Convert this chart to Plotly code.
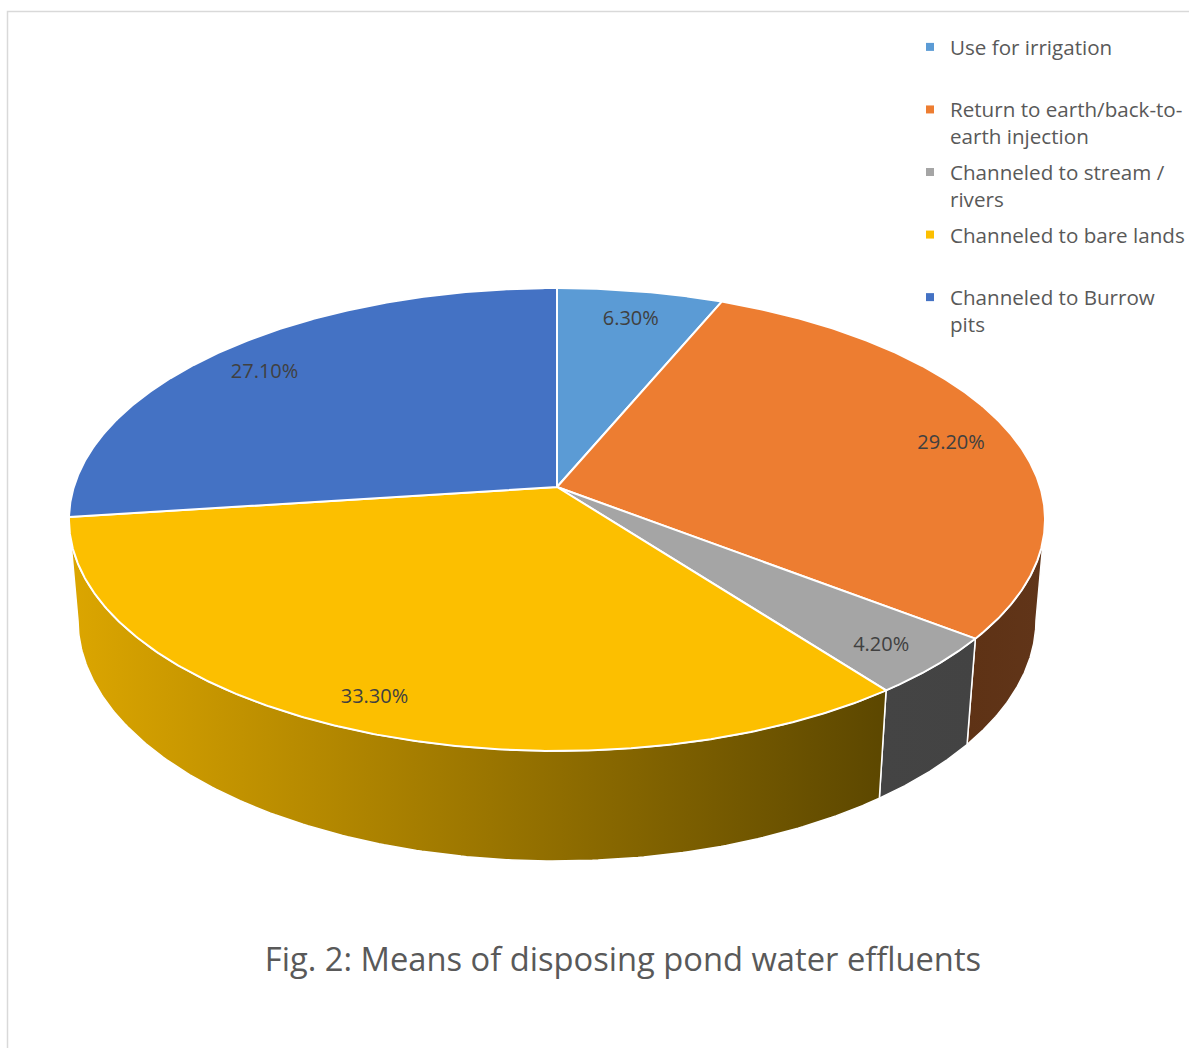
import numpy as np
import plotly.graph_objects as go

# ---------------- data ----------------
categories = [
    "Use for irrigation",
    "Return to earth/back-to-earth injection",
    "Channeled to stream / rivers",
    "Channeled to bare lands",
    "Channeled to Burrow pits",
]
legend_labels = [
    "Use for irrigation<br>\u00a0",
    "Return to earth/back-to-<br>earth injection",
    "Channeled to stream /<br>rivers",
    "Channeled to bare lands<br>\u00a0",
    "Channeled to Burrow<br>pits",
]
values = [6.3, 29.2, 4.2, 33.3, 27.1]
value_labels = ["6.30%", "29.20%", "4.20%", "33.30%", "27.10%"]
title_text = "Fig. 2: Means of disposing pond water effluents"

# ---------------- styles ----------------
top_colors = ["#5B9BD5", "#ED7D31", "#A5A5A5", "#FCBF00", "#4472C4"]
wall_colors = [
    ["#2E5A85", "#2E5A85"],
    ["#5E3215", "#613519"],
    ["#444444", "#434343"],
    ["#DCA600", "#5C4700"],
    ["#26457A", "#26457A"],
]
FONT = "Open Sans"

# ---------------- 3D-perspective projection of the pie disc ----------------
W, H = 1189, 1048
CX, CY = 557.0, 487.0      # apex of the pie (screen px)
A, B, K = 483.2, 226.9, 0.1404   # horizontal / vertical radius and perspective
C_T, M_T = 101.5, 0.0185   # thickness and its perspective term
LABEL_R = 0.87
LABEL_DY = 6.0


def proj(theta_deg, r=1.0, bottom=False):
    th = np.radians(theta_deg)
    u = r * np.sin(th)
    w = r * np.cos(th)
    z = 1.0 if bottom else 0.0
    den = 1 + K * w + M_T * z
    return CX + A * u / den, CY + (-B * w + C_T * z) / den


vals = np.array(values, dtype=float)
ends = np.cumsum(vals) / vals.sum() * 360.0
starts = np.concatenate([[0.0], ends[:-1]])
theta_r = np.degrees(np.arccos(-K))          # right silhouette
theta_l = 360.0 - theta_r                    # left silhouette

fig = go.Figure()

# side walls (only the front, visible part)
for i in range(len(values)):
    lo, hi = max(starts[i], theta_r), min(ends[i], theta_l)
    if lo >= hi:
        continue
    t = np.linspace(lo, hi, 200)
    xt, yt = proj(t)
    xb, yb = proj(t[::-1], bottom=True)
    xs = np.concatenate([xt, xb, xt[:1]])
    ys = np.concatenate([yt, yb, yt[:1]])
    fig.add_trace(go.Scatter(
        x=xs, y=ys, mode="lines", fill="toself",
        fillgradient=dict(type="horizontal",
                          colorscale=[[0, wall_colors[i][0]], [1, wall_colors[i][1]]]),
        line=dict(color="white", width=1.5),
        showlegend=False, hoverinfo="skip"))

# top surfaces
for i in range(len(values)):
    t = np.linspace(starts[i], ends[i], 300)
    xa, ya = proj(t)
    xs = np.concatenate([[CX], xa, [CX]])
    ys = np.concatenate([[CY], ya, [CY]])
    fig.add_trace(go.Scatter(
        x=xs, y=ys, mode="lines", fill="toself", fillcolor=top_colors[i],
        line=dict(color="white", width=2), name=categories[i],
        showlegend=False, hoverinfo="skip"))

# data labels
mid = (starts + ends) / 2
lx, ly = proj(mid, r=LABEL_R)
fig.add_trace(go.Scatter(
    x=lx, y=ly + LABEL_DY, mode="text", text=value_labels,
    textfont=dict(family=FONT, size=20, color="#404040"),
    showlegend=False, hoverinfo="skip"))

# legend entries
for i in range(len(values)):
    fig.add_trace(go.Scatter(
        x=[None], y=[None], mode="markers",
        marker=dict(symbol="square", size=8, color=top_colors[i]),
        name=legend_labels[i], legendgroup=f"g{i}", showlegend=True))

fig.update_layout(
    width=W, height=H,
    margin=dict(l=0, r=0, t=0, b=0, autoexpand=False),
    paper_bgcolor="white", plot_bgcolor="white",
    xaxis=dict(range=[0, W], visible=False, fixedrange=True),
    yaxis=dict(range=[H, 0], visible=False, fixedrange=True),
    showlegend=True,
    legend=dict(
        xref="container", yref="container",
        x=910 / W, y=1 - 27 / H, xanchor="left", yanchor="top",
        font=dict(family=FONT, size=20.6, color="#595959"),
        traceorder="grouped", tracegroupgap=6, valign="top",
        bgcolor="rgba(0,0,0,0)", borderwidth=0,
    ),
    title=dict(
        text=title_text, xref="container", yref="container",
        x=623 / W, y=1 - 960 / H, xanchor="center", yanchor="middle",
        font=dict(family=FONT, size=32.7, color="#595959"),
    ),
    shapes=[dict(type="rect", xref="x", yref="y", x0=7.5, y0=11.5, x1=W + 20, y1=H + 20,
                 line=dict(color="#D9D9D9", width=1.5), fillcolor="rgba(0,0,0,0)",
                 layer="below")],
)

fig.write_html("out.html")
